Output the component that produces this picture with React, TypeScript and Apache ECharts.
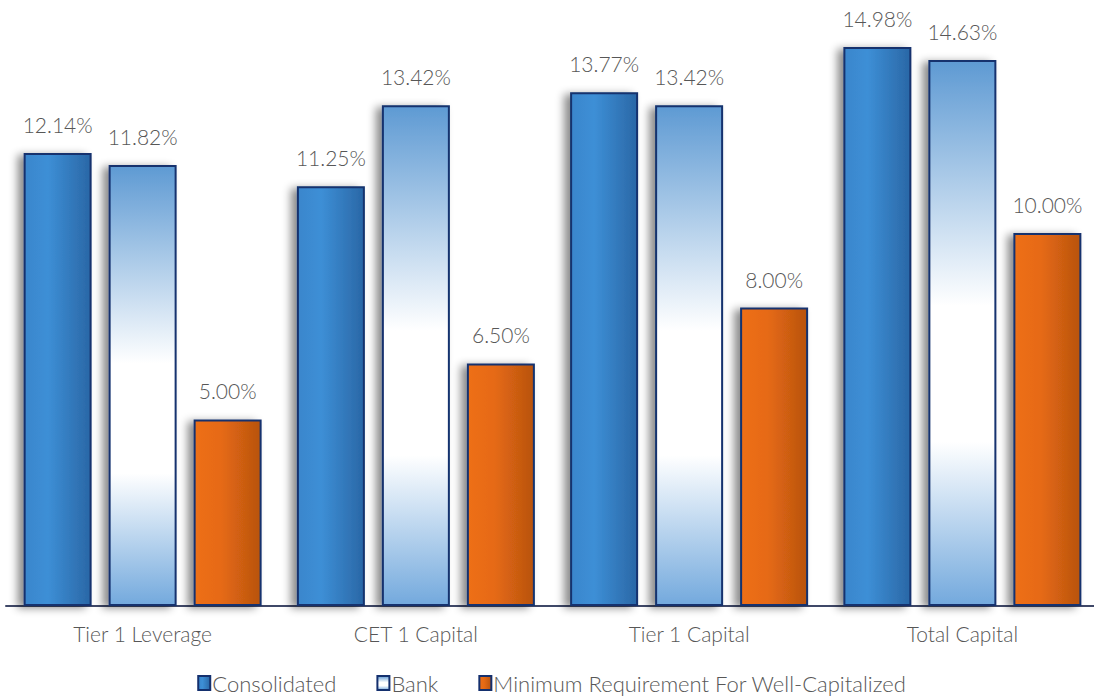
import React, { useEffect, useRef } from "react";
import * as echarts from "echarts";

const categories = ["Tier 1 Leverage", "CET 1 Capital", "Tier 1 Capital", "Total Capital"];
const consolidated = [12.14, 11.25, 13.77, 14.98];
const bank = [11.82, 13.42, 13.42, 14.63];
const minimum = [5.0, 6.5, 8.0, 10.0];
const seriesNames = ["Consolidated", "Bank", "Minimum Requirement For Well-Capitalized"];

const FONT = "Lato, 'Noto Sans', sans-serif";
const TEXT = "#575757";

export default function App() {
  const ref = useRef<HTMLDivElement>(null);
  useEffect(() => {
    if (!ref.current) return;
    const chart = echarts.init(ref.current, undefined, { renderer: "svg" });
    const border = { borderColor: "#14306e", borderWidth: 2 };
    const shadow = { shadowColor: "rgba(0,0,0,0.45)", shadowBlur: 9, shadowOffsetX: -6, shadowOffsetY: 2 };
    const label = {
      show: true,
      position: "top" as const,
      distance: 18,
      color: TEXT,
      fontFamily: FONT,
      fontWeight: 300,
      fontSize: 21,
      formatter: (p: any) => Number(p.value).toFixed(2) + "%",
    };
    const consGrad = new echarts.graphic.LinearGradient(0, 0, 1, 0, [
      { offset: 0, color: "#3a86cc" },
      { offset: 0.35, color: "#3d8fd6" },
      { offset: 1, color: "#2a67a6" },
    ]);
    const bankGrad = new echarts.graphic.LinearGradient(0, 0, 0, 1, [
      { offset: 0, color: "#5e9ad3" },
      { offset: 0.45, color: "#ffffff" },
      { offset: 0.7, color: "#ffffff" },
      { offset: 1, color: "#73a9dd" },
    ]);
    const minGrad = new echarts.graphic.LinearGradient(0, 0, 1, 0, [
      { offset: 0, color: "#ee6f16" },
      { offset: 0.4, color: "#e66a14" },
      { offset: 1, color: "#b8530f" },
    ]);
    const makeSeries = (name: string, data: number[], color: any) => ({
      name,
      type: "bar",
      data,
      barWidth: 68,
      barGap: "25%",
      label,
      itemStyle: { color, ...border, ...shadow },
    });
    chart.setOption({
      animation: false,
      grid: { left: 6, right: 5, top: 9, bottom: 93, containLabel: false },
      legend: {
        bottom: 0,
        left: "center",
        icon: "rect",
        itemWidth: 12,
        itemHeight: 14,
        itemGap: 40,
        textStyle: { color: TEXT, fontFamily: FONT, fontWeight: 300, fontSize: 22, padding: [0, 0, 0, -3] },
        data: seriesNames,
      },
      xAxis: {
        type: "category",
        data: categories,
        axisLine: { lineStyle: { color: "#3f4868", width: 2 } },
        axisTick: { show: false },
        axisLabel: { color: TEXT, fontFamily: FONT, fontWeight: 300, fontSize: 21, margin: 17 },
      },
      yAxis: {
        type: "value",
        min: 0,
        max: 16,
        show: false,
        splitLine: { show: false },
      },
      series: [
        makeSeries(seriesNames[0], consolidated, consGrad),
        makeSeries(seriesNames[1], bank, bankGrad),
        makeSeries(seriesNames[2], minimum, minGrad),
      ],
    });
    return () => chart.dispose();
  }, []);
  return (
    <div style={{ width: 1094, height: 699, position: "absolute", left: 0, top: 0, overflow: "hidden" }}>
      <div ref={ref} style={{ width: 1104, height: 699 }} />
    </div>
  );
}
